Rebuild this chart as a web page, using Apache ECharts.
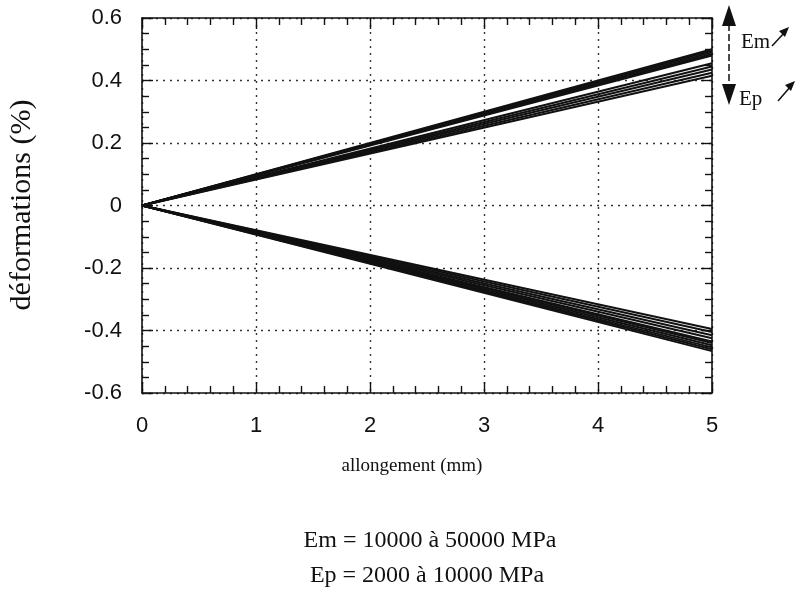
<!DOCTYPE html>
<html>
<head>
<meta charset="utf-8">
<script src="https://cdn.jsdelivr.net/npm/echarts@6/dist/echarts.min.js"></script>
<style>html,body{margin:0;padding:0;background:#fff;}#c{width:809px;height:595px;}</style>
</head>
<body>
<div id="c"></div>
<script>
// x positions (allongement, mm)
const xValues = [0, 5];
// upper family (end values at 5 mm)
const upperEnds = [0.500, 0.495, 0.490, 0.485, 0.480, 0.455, 0.445, 0.435, 0.425, 0.415];
// lower family (end values at 5 mm)
const lowerEnds = [-0.395, -0.405, -0.415, -0.425, -0.435, -0.440, -0.447, -0.454, -0.460, -0.466];
const xTicks = [0, 1, 2, 3, 4, 5];
const yTicks = [-0.6, -0.4, -0.2, 0, 0.2, 0.4, 0.6];
const xLabel = 'allongement (mm)';
const yLabel = 'déformations (%)';
const note1 = 'Em = 10000 à 50000 MPa';
const note2 = 'Ep = 2000 à 10000 MPa';

const series = [];
[...upperEnds, ...lowerEnds].forEach((v) => {
  series.push({
    type: 'line', xAxisIndex: 0, yAxisIndex: 0, symbol: 'none', silent: true,
    lineStyle: { color: '#111', width: 2 },
    data: [[xValues[0], 0], [xValues[1], v]]
  });
});

const tickFont = { fontFamily: 'Liberation Sans, Arial', fontSize: 22, color: '#111' };
const axisLineStyle = { show: true, onZero: false, lineStyle: { color: '#111', width: 1.6 } };
const majorTick = { show: true, inside: true, length: 11, lineStyle: { color: '#111', width: 1.4 } };
const minorTickX = { show: true, splitNumber: 5, length: 7, lineStyle: { color: '#111', width: 1.4 } };
const minorTickY = { show: true, splitNumber: 4, length: 7, lineStyle: { color: '#111', width: 1.4 } };
const gridLine = { show: true, lineStyle: { color: '#333', type: [2, 5], width: 1.4 } };
const serif = '"Liberation Serif", "Times New Roman", serif';

const chart = echarts.init(document.getElementById('c'));
chart.setOption({
  backgroundColor: '#fff',
  animation: false,
  grid: { left: 142, right: 97, top: 18, bottom: 202 },
  xAxis: [
    { type: 'value', min: 0, max: 5, interval: 1, position: 'bottom',
      axisLine: axisLineStyle, axisTick: majorTick, minorTick: minorTickX,
      axisLabel: Object.assign({ margin: 22, formatter: v => xTicks.includes(v) ? String(v) : '' }, tickFont),
      splitLine: gridLine },
    { type: 'value', min: 0, max: 5, interval: 1, position: 'top',
      axisLine: axisLineStyle, axisTick: majorTick, minorTick: minorTickX,
      axisLabel: { show: false }, splitLine: { show: false } }
  ],
  yAxis: [
    { type: 'value', min: -0.6, max: 0.6, interval: 0.2, position: 'left',
      axisLine: axisLineStyle, axisTick: majorTick, minorTick: minorTickY,
      axisLabel: Object.assign({ margin: 20, formatter: v => {
        const r = Math.round(v * 10) / 10;
        const t = yTicks.find(k => Math.abs(k - r) < 1e-9);
        return t === undefined ? '' : (t === 0 ? '0' : String(t));
      } }, tickFont),
      splitLine: gridLine },
    { type: 'value', min: -0.6, max: 0.6, interval: 0.2, position: 'right',
      axisLine: axisLineStyle, axisTick: majorTick, minorTick: minorTickY,
      axisLabel: { show: false }, splitLine: { show: false } }
  ],
  series: series,
  graphic: [
    { type: 'text', x: 22, y: 205, rotation: Math.PI / 2, style: { text: yLabel, font: '30px ' + serif, fill: '#111', textAlign: 'center', textVerticalAlign: 'middle' } },
    { type: 'text', x: 412, y: 466, style: { text: xLabel, font: '19px ' + serif, fill: '#111', textAlign: 'center', textVerticalAlign: 'middle' } },
    { type: 'text', x: 430, y: 541, style: { text: note1, font: '24px ' + serif, fill: '#111', textAlign: 'center', textVerticalAlign: 'middle' } },
    { type: 'text', x: 427, y: 576, style: { text: note2, font: '24px ' + serif, fill: '#111', textAlign: 'center', textVerticalAlign: 'middle' } },
    // double arrow
    { type: 'line', shape: { x1: 729, y1: 24, x2: 729, y2: 86 }, style: { stroke: '#111', lineWidth: 1.5, lineDash: [7, 3] } },
    { type: 'polygon', shape: { points: [[729, 5], [722, 26], [736, 26]] }, style: { fill: '#111' } },
    { type: 'polygon', shape: { points: [[729, 105], [722, 84], [736, 84]] }, style: { fill: '#111' } },
    { type: 'text', x: 741, y: 42, style: { text: 'Em', font: '21px ' + serif, fill: '#111', textVerticalAlign: 'middle' } },
    { type: 'text', x: 739, y: 99, style: { text: 'Ep', font: '21px ' + serif, fill: '#111', textVerticalAlign: 'middle' } },
    // small arrows
    { type: 'line', shape: { x1: 772, y1: 46, x2: 785, y2: 32 }, style: { stroke: '#111', lineWidth: 1.5 } },
    { type: 'polygon', shape: { points: [[789, 27], [779, 31], [785, 37]] }, style: { fill: '#111' } },
    { type: 'line', shape: { x1: 778, y1: 101, x2: 791, y2: 86 }, style: { stroke: '#111', lineWidth: 1.5 } },
    { type: 'polygon', shape: { points: [[795, 81], [785, 85], [791, 91]] }, style: { fill: '#111' } }
  ]
});
</script>
</body>
</html>
